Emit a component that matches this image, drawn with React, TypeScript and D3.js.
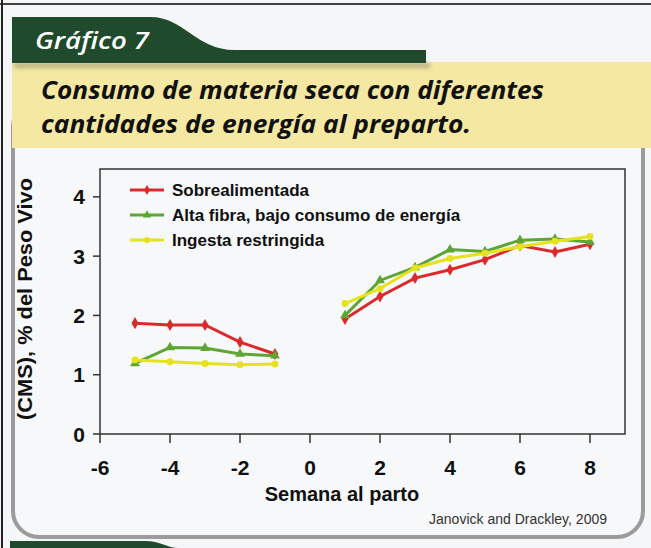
import React from "react"
import * as d3 from "d3"

// semanas
const weeksPre = [-5, -4, -3, -2, -1]
const weeksPost = [1, 2, 3, 4, 5, 6, 7, 8]

// CMS, % del peso vivo
const sobrePre = [1.87, 1.84, 1.84, 1.55, 1.35]
const sobrePost = [1.94, 2.32, 2.63, 2.77, 2.94, 3.18, 3.07, 3.2]
const fibraPre = [1.19, 1.46, 1.45, 1.35, 1.32]
const fibraPost = [2.0, 2.59, 2.81, 3.11, 3.08, 3.27, 3.29, 3.24]
const ingestaPre = [1.25, 1.22, 1.19, 1.17, 1.18]
const ingestaPost = [2.2, 2.45, 2.8, 2.96, 3.05, 3.16, 3.25, 3.33]

const seriesNames = ["Sobrealimentada", "Alta fibra, bajo consumo de energía", "Ingesta restringida"]
const xTicks = [-6, -4, -2, 0, 2, 4, 6, 8]
const yTicks = [0, 1, 2, 3, 4]

const W = 651
const H = 548

const series = [
  { name: seriesNames[0], pre: sobrePre, post: sobrePost, color: "#dc2a2c", symbol: d3.symbolDiamond },
  { name: seriesNames[1], pre: fibraPre, post: fibraPost, color: "#5ea634", symbol: d3.symbolTriangle },
  { name: seriesNames[2], pre: ingestaPre, post: ingestaPost, color: "#e6e31e", symbol: d3.symbolCircle },
]

export default function App() {
  const x = d3.scaleLinear().domain([-6, 9]).range([100, 625])
  const y = d3.scaleLinear().domain([0, 4.47]).range([434, 169])
  const line = d3.line<[number, number]>().x(d => x(d[0])).y(d => y(d[1]))
  const axisFont = "'Liberation Sans', Arial, sans-serif"
  const headFont = "'Open Sans', 'Noto Sans', sans-serif"

  return (
    <svg width={W} height={H} style={{ position: "absolute", left: 0, top: 0 }}>
      <defs>
        <filter id="blur" x="-10%" y="-100%" width="120%" height="300%">
          <feGaussianBlur stdDeviation="2" />
        </filter>
      </defs>
      <rect width={W} height={H} fill="#f5f6f8" />

      {/* recuadro gris redondeado */}
      <rect x={13} y={100} width={630} height={437} rx={26} fill="#f7f8fa" stroke="#9b9b9b" strokeWidth={4} />

      {/* banda amarilla del titulo */}
      <rect x={12} y={62} width={W - 12} height={86} fill="#f4e8a2" />
      <rect x={14} y={63} width={416} height={5} fill="#8d8a6e" opacity={0.6} filter="url(#blur)" />
      <path d="M12,17 L150,17 C185,17 195,50 235,50 L426,50 L426,63 L12,63 Z" fill="#1f4a2b" />
      <text x={35} y={49} fill="#fff" fontFamily={headFont} fontWeight={600} fontStyle="italic" fontSize={24} textLength={114} lengthAdjust="spacingAndGlyphs">Gráfico 7</text>
      <text fontFamily={headFont} fontWeight={700} fontStyle="italic" fill="#111">
        <tspan x={41} y={99} fontSize={25} textLength={503} lengthAdjust="spacingAndGlyphs">Consumo de materia seca con diferentes</tspan>
        <tspan x={41} y={133} fontSize={25} textLength={430} lengthAdjust="spacingAndGlyphs">cantidades de energía al preparto.</tspan>
      </text>

      {/* pestaña verde inferior */}
      <path d="M10,541 L145,541 C160,541 168,548 178,548 L10,548 Z" fill="#1f4a2b" />

      {/* borde de pagina */}
      <line x1={0} y1={4} x2={W} y2={4} stroke="#444" strokeWidth={2} />
      <line x1={2} y1={0} x2={2} y2={H} stroke="#222" strokeWidth={2} />

      {/* marco del grafico */}
      <rect x={x(-6)} y={y(4.47)} width={x(9) - x(-6)} height={y(0) - y(4.47)} fill="#f7f8fa" stroke="#333" strokeWidth={1.5} />

      {yTicks.map(t => (
        <g key={"y" + t}>
          <line x1={x(-6) - 7} x2={x(-6)} y1={y(t)} y2={y(t)} stroke="#333" strokeWidth={1.5} />
          <text x={85} y={y(t) + 7.5} textAnchor="end" fontFamily={axisFont} fontWeight={700} fontSize={21} fill="#111">{t}</text>
        </g>
      ))}
      {xTicks.map(t => (
        <g key={"x" + t}>
          <line x1={x(t)} x2={x(t)} y1={y(0)} y2={y(0) + 9} stroke="#333" strokeWidth={1.5} />
          <text x={x(t)} y={475} textAnchor="middle" fontFamily={axisFont} fontWeight={700} fontSize={21} fill="#111">{t}</text>
        </g>
      ))}

      <text x={342} y={501} textAnchor="middle" fontFamily={axisFont} fontWeight={700} fontSize={20} fill="#111">Semana al parto</text>
      <text transform="translate(32,299) rotate(-90)" textAnchor="middle" fontFamily={axisFont} fontWeight={700} fontSize={21} fill="#111" textLength={242} lengthAdjust="spacingAndGlyphs">(CMS), % del Peso Vivo</text>
      <text x={607} y={524} textAnchor="end" fontFamily={axisFont} fontSize={14} fill="#333">Janovick and Drackley, 2009</text>

      {/* series */}
      {series.map(s => {
        const sym = d3.symbol().type(s.symbol).size(s.symbol === d3.symbolCircle ? 38 : 42)
        const pre = weeksPre.map((w, i) => [w, s.pre[i]] as [number, number])
        const post = weeksPost.map((w, i) => [w, s.post[i]] as [number, number])
        return (
          <g key={s.name}>
            <path d={line(pre) || ""} fill="none" stroke={s.color} strokeWidth={3} />
            <path d={line(post) || ""} fill="none" stroke={s.color} strokeWidth={3} />
            {[...pre, ...post].map((p, i) => (
              <path key={i} d={sym() || ""} transform={`translate(${x(p[0])},${y(p[1])})`} fill={s.color} />
            ))}
          </g>
        )
      })}

      {/* leyenda */}
      {series.map((s, i) => {
        const ly = 190 + i * 25
        const sym = d3.symbol().type(s.symbol).size(30)
        return (
          <g key={"l" + i}>
            <line x1={130} x2={164} y1={ly} y2={ly} stroke={s.color} strokeWidth={3} />
            <path d={sym() || ""} transform={`translate(147,${ly})`} fill={s.color} />
            <text x={172} y={ly + 6} fontFamily={axisFont} fontWeight={700} fontSize={17} fill="#111">{s.name}</text>
          </g>
        )
      })}
    </svg>
  )
}
